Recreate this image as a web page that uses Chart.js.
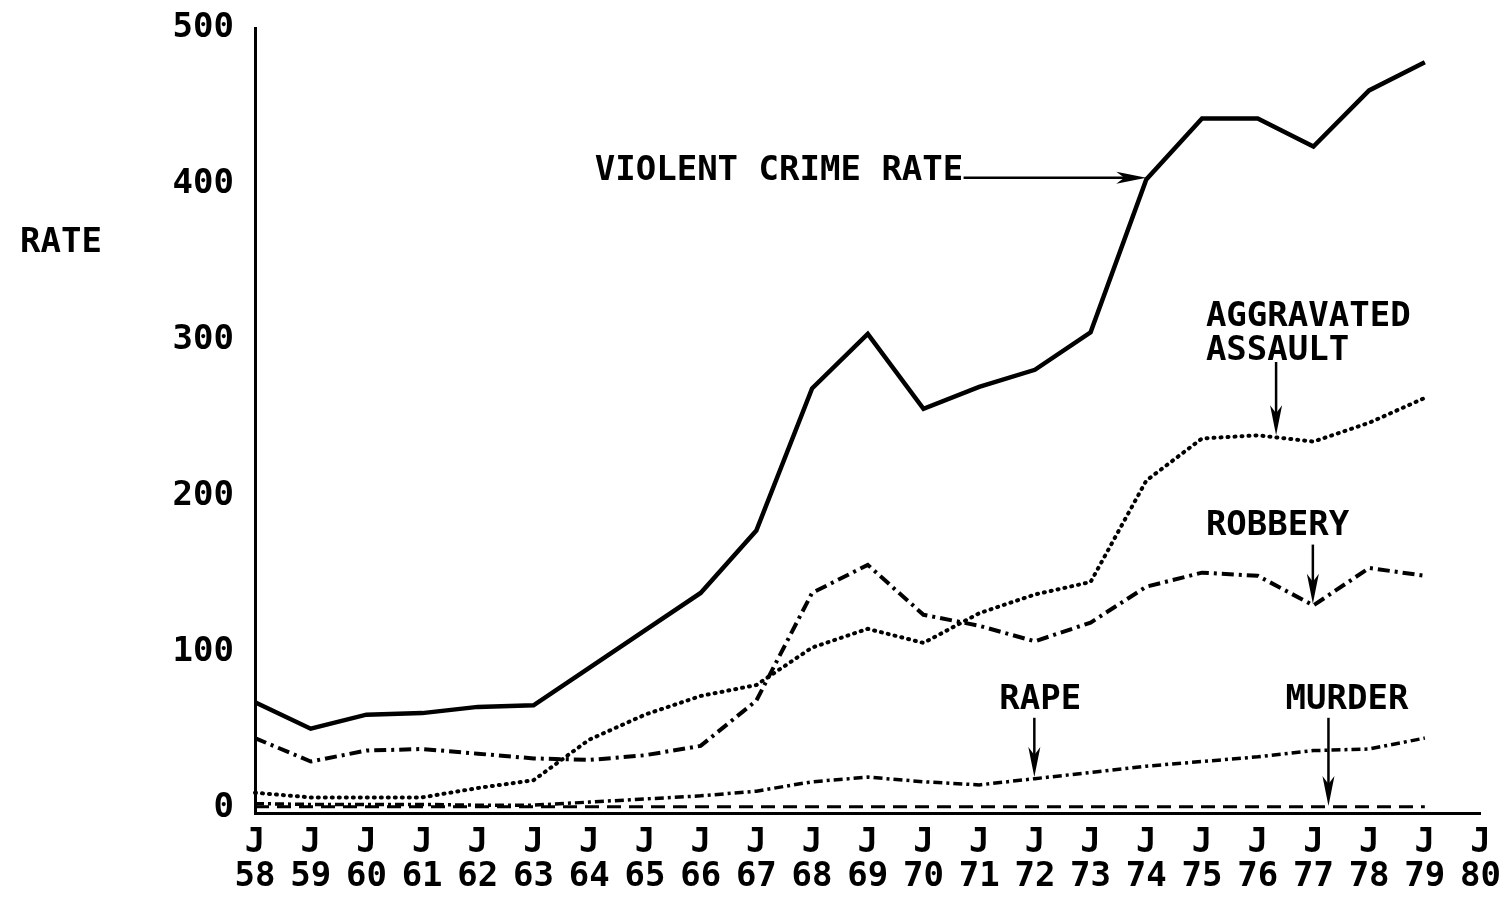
<!DOCTYPE html>
<html>
<head>
<meta charset="utf-8">
<script src="https://cdn.jsdelivr.net/npm/chart.js@4.4.1/dist/chart.umd.min.js"></script>
<style>
  html, body { margin: 0; padding: 0; background: #fff; }
  canvas { display: block; }
</style>
</head>
<body>
<canvas id="crimeChart" width="1506" height="898"></canvas>
<script>
// years 1958 - 1980, labels drawn as "J" over the year
const years = ['58','59','60','61','62','63','64','65','66','67','68','69','70','71','72','73','74','75','76','77','78','79','80'];
const yTicks = [0, 100, 200, 300, 400, 500];

// values, 1958 - 1979
const violentCrime = [68, 51, 60, 61, 65, 66, 90, 114, 138, 178, 269, 304, 256, 270, 281, 305, 403, 442, 442, 424, 460, 478];
const aggravatedAssault = [10, 7, 7, 7, 13, 18, 44, 60, 72, 79, 103, 115, 106, 125, 137, 145, 210, 237, 239, 235, 247, 263];
const robbery = [45, 30, 37, 38, 35, 32, 31, 34, 40, 69, 138, 156, 124, 117, 107, 119, 142, 151, 149, 130, 154, 149];
const rape = [3, 2.5, 2.5, 2.5, 2, 2, 4, 6, 8, 11, 17, 20, 17, 15, 19, 23, 27, 30, 33, 37, 38, 45];
const murder = [1, 1, 1, 1, 1, 1, 1, 1, 1, 1, 1, 1, 1, 1, 1, 1, 1, 1, 1, 1, 1, 1];

const FONT = 'DejaVu Sans Mono';

// text labels and arrows, positioned in data units (x = index from J58)
const notes = [
    { text: 'VIOLENT CRIME RATE', x: 6.1, y: 408 },
    { text: 'AGGRAVATED', x: 17.07, y: 315 },
    { text: 'ASSAULT', x: 17.07, y: 293 },
    { text: 'ROBBERY', x: 17.07, y: 181 },
    { text: 'RAPE', x: 13.36, y: 69 },
    { text: 'MURDER', x: 18.5, y: 69 }
];
const arrows = [
    { x1: 12.72, y1: 404, x2: 16.0, y2: 404 },
    { x1: 18.33, y1: 286, x2: 18.33, y2: 239 },
    { x1: 18.99, y1: 169, x2: 18.99, y2: 131 },
    { x1: 13.99, y1: 58, x2: 13.99, y2: 20 },
    { x1: 19.27, y1: 58, x2: 19.27, y2: 1.5 }
];

const notePlugin = {
    id: 'notes',
    afterDatasetsDraw(chart) {
        const { ctx, scales } = chart;
        const sx = scales.x, sy = scales.y;
        ctx.save();
        ctx.fillStyle = '#000';
        ctx.strokeStyle = '#000';
        ctx.font = 'bold 34px "' + FONT + '"';
        ctx.textBaseline = 'middle';
        ctx.textAlign = 'left';
        notes.forEach(n => {
            ctx.fillText(n.text, sx.getPixelForValue(n.x), sy.getPixelForValue(n.y));
        });
        // y axis title, written horizontally left of the ticks
        ctx.fillText('RATE', 20, sy.getPixelForValue(362));

        arrows.forEach(a => {
            const x1 = sx.getPixelForValue(a.x1), y1 = sy.getPixelForValue(a.y1);
            const x2 = sx.getPixelForValue(a.x2), y2 = sy.getPixelForValue(a.y2);
            const ang = Math.atan2(y2 - y1, x2 - x1);
            ctx.lineWidth = 2.5;
            ctx.beginPath();
            ctx.moveTo(x1, y1);
            ctx.lineTo(x2 - 20 * Math.cos(ang), y2 - 20 * Math.sin(ang));
            ctx.stroke();
            // narrow filled head
            ctx.beginPath();
            ctx.moveTo(x2, y2);
            ctx.lineTo(x2 - 30 * Math.cos(ang) + 6 * Math.sin(ang), y2 - 30 * Math.sin(ang) - 6 * Math.cos(ang));
            ctx.lineTo(x2 - 22 * Math.cos(ang), y2 - 22 * Math.sin(ang));
            ctx.lineTo(x2 - 30 * Math.cos(ang) - 6 * Math.sin(ang), y2 - 30 * Math.sin(ang) + 6 * Math.cos(ang));
            ctx.closePath();
            ctx.fill();
        });
        ctx.restore();
    }
};

const ctx = document.getElementById('crimeChart');
new Chart(ctx, {
    type: 'line',
    data: {
        labels: years,
        datasets: [
            { label: 'Murder', data: murder, borderColor: '#000', borderWidth: 3, borderDash: [14, 8] },
            { label: 'Rape', data: rape, borderColor: '#000', borderWidth: 3.5, borderDash: [9, 4, 3, 4] },
            { label: 'Robbery', data: robbery, borderColor: '#000', borderWidth: 4, borderDash: [12, 5, 3, 5] },
            { label: 'Aggravated assault', data: aggravatedAssault, borderColor: '#000', borderWidth: 4, borderDash: [1, 6], borderCapStyle: 'round' },
            { label: 'Violent crime rate', data: violentCrime, borderColor: '#000', borderWidth: 4.5 }
        ]
    },
    options: {
        responsive: false,
        devicePixelRatio: 1,
        animation: false,
        layout: { padding: { top: 28, right: 20, left: 0, bottom: 0 } },
        elements: { point: { radius: 0 }, line: { tension: 0 } },
        plugins: {
            legend: { display: false },
            tooltip: { enabled: false }
        },
        scales: {
            x: {
                type: 'category',
                offset: false,
                grid: { display: false },
                border: { display: true, color: '#000', width: 3 },
                ticks: {
                    autoSkip: false,
                    maxRotation: 0,
                    padding: 5,
                    color: '#000',
                    font: { family: FONT, size: 34, weight: 'bold', lineHeight: 1.0 },
                    callback: function(value) {
                        return ['J', this.getLabelForValue(value)];
                    }
                },
                afterFit: s => { s.height = 85; }
            },
            y: {
                min: -3,
                max: 500,
                grid: { display: false },
                border: { display: true, color: '#000', width: 3 },
                afterBuildTicks: axis => { axis.ticks = yTicks.map(v => ({ value: v })); },
                ticks: {
                    padding: 13,
                    color: '#000',
                    font: { family: FONT, size: 34, weight: 'bold' }
                },
                afterFit: s => { s.width = 255; s.paddingTop = 0; s.paddingBottom = 0; }
            }
        }
    },
    plugins: [notePlugin]
});
</script>
</body>
</html>
